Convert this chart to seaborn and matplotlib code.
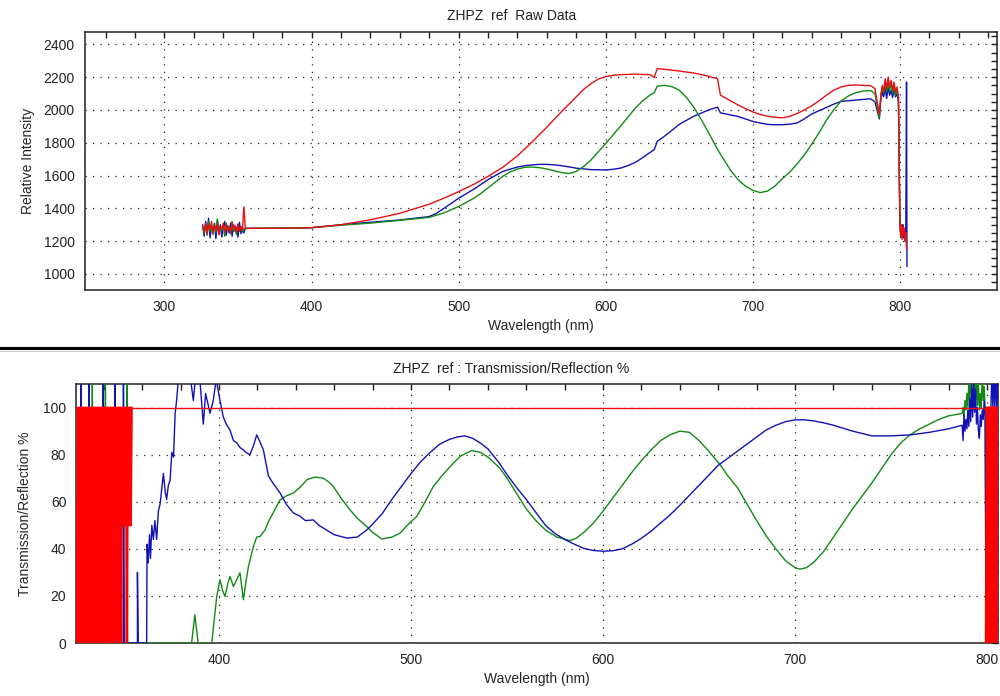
import pandas as pd
import matplotlib
matplotlib.use('Agg')
import matplotlib.pyplot as plt
import seaborn as sns
from matplotlib.ticker import MultipleLocator
from matplotlib.lines import Line2D

# ---------------- Raw Data (relative intensity) ----------------
raw_wl_left = [326, 327, 328, 329, 330, 331, 332, 333, 334, 335, 336, 337, 338, 339, 340,
               341, 342, 343, 344, 345, 346, 347, 348, 349, 350, 351, 352, 353, 354]
raw_blue_left = [1300, 1230, 1320, 1250, 1340, 1220, 1290, 1260, 1310, 1215, 1330, 1240, 1300, 1225, 1280,
                 1320, 1235, 1295, 1250, 1310, 1230, 1300, 1260, 1285, 1225, 1315, 1245, 1290, 1250]
raw_green_left = [1280, 1250, 1300, 1235, 1320, 1260, 1290, 1240, 1305, 1255, 1335, 1245, 1285, 1270, 1300,
                  1230, 1310, 1265, 1290, 1245, 1320, 1260, 1275, 1240, 1300, 1270, 1285, 1255, 1270]
raw_red_left = [1290, 1260, 1310, 1245, 1300, 1270, 1320, 1250, 1295, 1265, 1305, 1240, 1290, 1275, 1310,
                1255, 1300, 1265, 1285, 1250, 1315, 1270, 1295, 1255, 1305, 1260, 1290, 1265, 1410]

raw_red_wl = [355, 380, 400, 420, 440, 460, 480, 490, 500, 510,
              520, 530, 540, 550, 560, 570, 580, 585, 590, 595,
              600, 605, 610, 620, 630, 633, 635, 640, 650, 660,
              670, 676, 678, 685, 690, 695, 700, 705, 710, 715,
              720, 725, 730, 735, 740, 745, 750, 755, 760, 765,
              770, 780, 783, 786]
raw_red_main = [1278, 1279, 1282, 1300, 1330, 1370, 1425, 1462, 1502, 1545,
                1595, 1650, 1720, 1805, 1895, 1990, 2080, 2125, 2160, 2188,
                2203, 2211, 2215, 2218, 2215, 2198, 2252, 2248, 2237, 2225,
                2205, 2190, 2090, 2055, 2030, 2008, 1988, 1972, 1962, 1955,
                1952, 1960, 1978, 2000, 2025, 2055, 2090, 2120, 2140, 2150,
                2152, 2148, 2130, 1975]

raw_green_wl = [355, 380, 400, 420, 440, 460, 480, 490, 500, 505,
                510, 515, 520, 525, 530, 535, 540, 545, 550, 555,
                560, 570, 575, 580, 585, 590, 595, 600, 605, 610,
                615, 620, 625, 630, 633, 635, 640, 645, 650, 655,
                660, 665, 670, 676, 678, 685, 690, 695, 700, 705,
                710, 715, 720, 725, 730, 735, 740, 745, 750, 755,
                760, 765, 770, 775, 780, 783, 786]
raw_green_main = [1278, 1279, 1282, 1297, 1310, 1327, 1345, 1372, 1411, 1435,
                  1460, 1490, 1525, 1560, 1595, 1622, 1640, 1650, 1652, 1648,
                  1640, 1618, 1612, 1625, 1655, 1695, 1745, 1795, 1848, 1900,
                  1955, 2010, 2055, 2090, 2105, 2145, 2150, 2142, 2120, 2075,
                  2015, 1940, 1860, 1760, 1730, 1630, 1575, 1535, 1510, 1496,
                  1505, 1535, 1580, 1620, 1670, 1725, 1790, 1860, 1937, 2000,
                  2055, 2085, 2105, 2115, 2118, 2100, 1950]

raw_blue_wl = [355, 380, 400, 420, 440, 460, 480, 485, 490, 495,
               500, 510, 520, 530, 540, 545, 550, 555, 560, 565,
               570, 580, 590, 600, 605, 610, 615, 620, 625, 630,
               633, 635, 640, 650, 660, 670, 676, 678, 690, 700,
               705, 710, 715, 720, 725, 730, 735, 740, 745, 750,
               755, 760, 770, 780, 783, 786]
raw_blue_main = [1278, 1279, 1282, 1300, 1315, 1329, 1350, 1370, 1400, 1430,
                 1462, 1515, 1575, 1625, 1652, 1660, 1665, 1668, 1668, 1665,
                 1660, 1645, 1636, 1634, 1638, 1645, 1660, 1680, 1708, 1740,
                 1758, 1808, 1840, 1912, 1962, 2000, 2017, 1982, 1960, 1930,
                 1920, 1912, 1909, 1910, 1913, 1920, 1945, 1975, 1995, 2015,
                 2035, 2052, 2060, 2068, 2050, 1945]

raw_wl_right = [787, 788, 789, 790, 791, 792, 793, 794, 795, 796, 797, 798, 799, 799.5,
                800, 800.5, 801, 801.5, 802, 802.5, 803, 803.5, 804, 804.5]
raw_red_right = [2080, 2150, 2110, 2190, 2130, 2200, 2140, 2180, 2120, 2170, 2110, 2140, 2080, 1700,
                 1320, 1230, 1300, 1210, 1290, 1240, 1280, 1200, 1250, 1150]
raw_green_right = [2090, 2140, 2100, 2170, 2110, 2180, 2120, 2160, 2100, 2150, 2090, 2120, 2070, 1680,
                   1310, 1240, 1290, 1220, 1280, 1250, 1270, 1230, 1240, 1200]
raw_blue_wl_right = raw_wl_right + [804.8]
raw_blue_right = [2060, 2110, 2080, 2130, 2070, 2140, 2090, 2120, 2075, 2130, 2080, 2100, 2050, 1650,
                  1300, 1250, 1280, 1230, 1300, 1220, 1270, 1240, 1260, 2170, 1045]

# ---------------- Transmission / Reflection % ----------------
blue_t_wl = [326, 328, 328, 328.4, 332.3, 332.3, 332.7, 339.5, 339.5, 339.9,
             345.7, 345.7, 346.1, 350.2, 350.2, 350.6, 355, 357.5, 357.5, 357.9,
             362.3, 362.5, 363.1, 363.8, 364.3, 365, 365.8, 366.6, 367.5, 368.4,
             369.3, 370.2, 371, 372, 372.7, 373.6, 374.5, 375.4, 376.3, 377.1,
             378, 378.8,
             380, 382, 384, 386.6, 388, 390, 391.8, 393, 395.3, 397,
             398.5, 400.5, 402.2, 404, 405.7, 407.5, 409.2, 411, 412.7, 414,
             416.1, 418, 419.6, 421, 423.1, 425.7, 428, 431.8, 435, 438.7,
             442, 445, 449.1, 452, 456, 460, 466.5, 472, 476.9, 480,
             485, 490, 495, 500, 505, 510, 515, 520, 524, 528,
             532, 536, 540, 546, 550, 555, 560, 565, 570, 575,
             580, 585, 590, 595, 600, 605, 610, 615, 620, 625,
             630, 635, 640, 650, 660, 670, 680, 685, 690, 695,
             700, 705, 710, 715, 720, 730, 740, 750, 760, 770,
             780, 787,
             787.5, 788, 788.5, 789, 789.5, 790, 790.5, 791, 791.5, 792, 792.5, 793, 793.5,
             794, 794.5, 795, 795.5, 796, 796.5, 797, 797.5, 798, 798.5, 799, 799.5,
             802, 802.5, 803, 803.5, 804, 804.5, 805, 805.5, 806]
blue_t = [0, 0, 115, 0, 0, 115, 0, 0, 115, 0,
          0, 115, 0, 0, 115, 0, 0, 0, 30, 0,
          0, 42, 34, 46, 36, 50, 44, 52, 44, 56,
          59, 66, 72, 64, 61, 67, 69, 81, 79, 97,
          104, 112,
          118, 114, 120, 103, 115, 112, 93, 106, 97.6, 103,
          112, 103, 96, 92.6, 90.5, 86, 85, 83, 82, 81,
          80, 84, 88.4, 86, 82, 71, 68, 63.7, 59, 55.2,
          54, 52, 52.3, 50, 48, 46, 44.6, 45, 48, 50.5,
          55, 61, 66.5, 72, 77, 81, 84.5, 86.5, 87.5, 88,
          87, 85, 82.5, 76.4, 71.5, 66, 61, 55.5, 50, 46.5,
          44, 42, 40.2, 39.3, 39, 39.2, 40, 42, 44.5, 47.5,
          51, 54.5, 58.5, 67, 75.5, 81.5, 87.5, 90.5, 92.5, 94,
          94.8, 94.8, 94.3, 93.5, 92.5, 90, 88, 88, 88.4, 89.5,
          91, 92.5,
          86, 97, 90, 95, 91, 99, 92, 104, 94, 110, 96, 112, 98,
          108, 93, 100, 90, 87, 97, 92, 99, 95, 103, 96, 0,
          100, 115, 100, 115, 100, 115, 100, 115, 100]

green_t_wl = [326, 334, 334, 334.4, 340.8, 340.8, 341.2, 352, 352, 352.4,
              385.7, 387.4, 389.1, 396.2,
              398.8, 400.5, 402, 403.1, 404.5, 405.7, 407.5, 409.2, 410.9, 412.7,
              414, 415.3, 417.9, 419.6, 421.4, 424, 426, 428, 431.8, 435,
              438.7, 442, 446, 450, 454.3, 457, 459.5, 464, 468.2, 472,
              476.9, 480, 484.7, 490, 494.3, 498, 503, 507, 511.6, 516,
              522, 526, 531.6, 536, 540, 546, 550, 555, 560, 565,
              570, 576, 582.8, 586, 590, 595, 600, 605, 610, 615,
              620, 625, 630, 635, 640, 645, 650, 655, 661, 665,
              670, 675, 680, 685, 690, 695, 700, 702.6, 706, 710,
              715, 720, 725, 730, 735, 740, 745, 750, 755, 760,
              765, 770, 775, 780, 787,
              787.5, 788, 788.5, 789, 789.5, 790, 790.5, 791, 791.5, 792, 792.5, 793, 793.5,
              794, 794.5, 795, 795.5, 796, 796.5, 797, 797.5, 798, 798.5, 799, 799.5]
green_t = [0, 0, 115, 0, 0, 115, 0, 0, 115, 0,
           0, 12, 0, 0,
           19.8, 26.9, 22, 19.8, 25, 28.3, 24, 26.9, 29.8, 18.4,
           26, 32.5, 41, 45, 45.3, 48.1, 52, 55, 60.8, 62.5,
           63.7, 66, 69.5, 70.5, 70, 68.5, 66.5, 61, 56.6, 53,
           49.5, 47, 44.2, 45, 46.7, 50, 53.8, 59.5, 66.5, 71,
           76.4, 79.5, 81.8, 81, 79, 74.5, 70, 63.5, 57, 52,
           48, 45, 43.5, 44.5, 47, 51, 56, 61.5, 67, 72.5,
           77.5, 82, 86, 88.5, 90, 89.5, 86, 81.5, 75.7, 71,
           66, 59, 52, 45.5, 40, 35, 32, 31.4, 32, 34.5,
           39, 45, 51, 57, 62.5, 68, 74, 80, 85, 88.5,
           91, 93, 95, 96.5, 97.5,
           100, 96, 103, 99, 106, 100, 111, 102, 115, 104, 108, 100, 113,
           103, 115, 101, 110, 99, 106, 100, 115, 103, 109, 100, 0]

red_t_wl_left = [326, 326.5, 327, 327.5, 328, 328.5, 329, 329.5, 330, 330.5,
                 331, 331.5, 332, 332.5, 333, 333.5, 334, 334.5, 335, 335.5,
                 336, 336.5, 337, 337.5, 338, 338.5, 339, 339.5, 340, 340.5,
                 341, 341.5, 342, 342.5, 343, 343.5, 344, 344.5, 345, 345.5,
                 346, 346.5, 347, 347.5, 348, 348.5, 349, 349.5, 350, 350.5,
                 351, 351.5, 352, 352.5, 353, 353.5, 354, 354.5]
red_t_left = [0, 100, 0, 100, 0, 100, 0, 100, 0, 100,
              0, 100, 0, 100, 0, 100, 0, 100, 0, 100,
              0, 100, 0, 100, 0, 100, 0, 100, 0, 100,
              0, 100, 0, 100, 0, 100, 0, 100, 0, 100,
              0, 100, 0, 100, 0, 100, 0, 100, 50, 100,
              50, 100, 0, 100, 50, 100, 50, 100]
red_t_wl_flat = [354.5, 799.5]
red_t_flat = [100, 100]
red_t_wl_right = [799.5, 800, 800.5, 801, 801.5, 802, 802.5, 803, 803.5, 804, 804.5, 805, 805.5, 806]
red_t_right = [0, 100, 0, 100, 0, 100, 0, 100, 0, 100, 0, 100, 0, 100]

RED = '#e81010'
GREEN = '#128a12'
BLUE = '#1212b4'


def draw(ax, x, y, color, lw):
    df = pd.DataFrame({'wl': x, 'val': y})
    sns.lineplot(data=df, x='wl', y='val', ax=ax, color=color, linewidth=lw,
                 sort=False, estimator=None, legend=False, zorder=3)


def style_axes(ax, xmaj, xmin, ymaj, ymin, ylen):
    ax.xaxis.set_major_locator(MultipleLocator(xmaj))
    ax.xaxis.set_minor_locator(MultipleLocator(xmin))
    ax.yaxis.set_major_locator(MultipleLocator(ymaj))
    ax.yaxis.set_minor_locator(MultipleLocator(ymin))
    ax.tick_params(axis='x', which='major', direction='inout', length=9, width=1, pad=3, labelsize=10)
    ax.tick_params(axis='x', which='minor', direction='inout', length=5, width=1)
    ax.tick_params(axis='y', which='major', direction='inout', length=ylen, width=1, pad=3, labelsize=10)
    ax.tick_params(axis='y', which='minor', direction='inout', length=ylen / 2, width=1)
    ax.grid(True, which='major', color='#222222', linestyle=(0, (1, 5)), linewidth=0.9)
    ax.set_axisbelow(True)
    for s in ax.spines.values():
        s.set_color('#222222')
        s.set_linewidth(1.1)
    top = ax.secondary_xaxis('top')
    top.xaxis.set_major_locator(MultipleLocator(xmaj))
    top.xaxis.set_minor_locator(MultipleLocator(xmin))
    top.tick_params(axis='x', which='both', direction='in', length=4.5, width=1, labeltop=False)
    top.spines['top'].set_visible(False)
    right = ax.secondary_yaxis('right')
    right.yaxis.set_major_locator(MultipleLocator(ymaj))
    right.yaxis.set_minor_locator(MultipleLocator(ymin))
    right.tick_params(axis='y', which='both', direction='in', length=4.5, width=1, labelright=False)
    right.spines['right'].set_visible(False)


sns.set_style('white')
plt.rcParams['font.family'] = ['Liberation Sans', 'DejaVu Sans']
plt.rcParams['text.color'] = '#222222'
plt.rcParams['xtick.color'] = '#222222'
plt.rcParams['ytick.color'] = '#222222'

fig = plt.figure(figsize=(10, 6.96), dpi=100)

# top panel
ax1 = fig.add_axes([0.085, 0.5833, 0.912, 0.3707])
draw(ax1, raw_wl_left + raw_blue_wl + raw_blue_wl_right,
     raw_blue_left + raw_blue_main + raw_blue_right, BLUE, 1.0)
draw(ax1, raw_wl_left + raw_green_wl + raw_wl_right,
     raw_green_left + raw_green_main + raw_green_right, GREEN, 1.0)
draw(ax1, raw_wl_left + raw_red_wl + raw_wl_right,
     raw_red_left + raw_red_main + raw_red_right, RED, 1.0)
ax1.set_xlim(246, 866)
ax1.set_ylim(902, 2475)
style_axes(ax1, 100, 20, 200, 50, 9)
ax1.set_xlabel('Wavelength (nm)', fontsize=10, labelpad=3)
ax1.set_ylabel('Relative Intensity', fontsize=10, labelpad=6)
fig.text(0.512, 0.977, 'ZHPZ  ref  Raw Data', ha='center', va='center', fontsize=10)

# bottom panel
ax2 = fig.add_axes([0.076, 0.0761, 0.922, 0.3721])
draw(ax2, green_t_wl, green_t, GREEN, 1.0)
draw(ax2, blue_t_wl, blue_t, BLUE, 1.0)
draw(ax2, red_t_wl_left, red_t_left, '#ff0000', 1.7)
draw(ax2, red_t_wl_flat, red_t_flat, RED, 1.0)
draw(ax2, red_t_wl_right, red_t_right, '#ff0000', 1.9)
ax2.set_xlim(325.5, 805.7)
ax2.set_ylim(0, 110)
style_axes(ax2, 100, 20, 20, 5, 8)
ax2.set_xlabel('Wavelength (nm)', fontsize=10, labelpad=3)
ax2.set_ylabel('Transmission/Reflection %', fontsize=10, labelpad=8)
fig.text(0.511, 0.47, 'ZHPZ  ref : Transmission/Reflection %', ha='center', va='center', fontsize=10)

# separator between the two panels
fig.add_artist(Line2D([0, 1], [1 - 348.3 / 696] * 2, transform=fig.transFigure, color='black', linewidth=2.2))
fig.add_artist(Line2D([0, 1], [1 - 350.8 / 696] * 2, transform=fig.transFigure, color='#cccccc', linewidth=0.8))

fig.savefig('out.png', dpi=100)
